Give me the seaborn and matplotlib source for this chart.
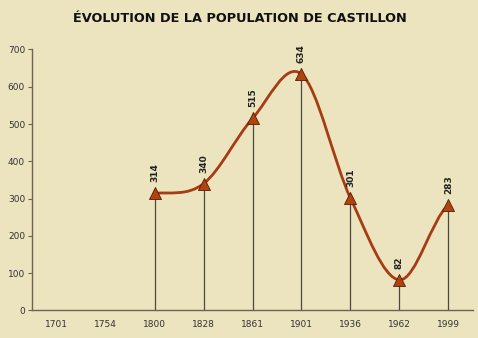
import numpy as np
import pandas as pd
import matplotlib
matplotlib.use("Agg")
import matplotlib.pyplot as plt
from matplotlib.path import Path
from matplotlib.patches import PathPatch
import seaborn as sns

# ---- data ----
years = ["1701", "1754", "1800", "1828", "1861", "1901", "1936", "1962", "1999"]
population = [np.nan, np.nan, 314, 340, 515, 634, 301, 82, 283]
title = "ÉVOLUTION DE LA POPULATION DE CASTILLON"
yticks = [0, 100, 200, 300, 400, 500, 600, 700]

df = pd.DataFrame({"year": years, "pop": population})
df["pos"] = np.arange(len(years))
d = df.dropna()

sns.set_theme(style="white")
plt.rcParams["font.family"] = ["DejaVu Sans"]

BG = "#ece3bf"
LINE = "#a63c12"
AX = "#6e6350"

fig = plt.figure(figsize=(4.78, 3.38), dpi=100, facecolor=BG)
ax = fig.add_axes([0.067, 0.0814, 0.9225, 0.7722])
ax.set_facecolor(BG)

# drop lines
ax.vlines(d["pos"], 0, d["pop"], color="#4d4a40", lw=0.9, zorder=2)

# smooth curve (Catmull-Rom rendered as cubic Bezier)
xs = d["pos"].to_numpy(float)
ys = d["pop"].to_numpy(float)
n = len(xs)
tang = np.zeros(n)
for i in range(n):
    if 0 < i < n - 1:
        tang[i] = (ys[i + 1] - ys[i - 1]) / (xs[i + 1] - xs[i - 1])
    elif i == 0:
        tang[i] = 0.5 * (ys[1] - ys[0]) / (xs[1] - xs[0])
    else:
        tang[i] = 0.5 * (ys[-1] - ys[-2]) / (xs[-1] - xs[-2])
verts = [(xs[0], ys[0])]
codes = [Path.MOVETO]
for i in range(n - 1):
    h = (xs[i + 1] - xs[i]) / 3.0
    verts += [(xs[i] + h, ys[i] + tang[i] * h),
              (xs[i + 1] - h, ys[i + 1] - tang[i + 1] * h),
              (xs[i + 1], ys[i + 1])]
    codes += [Path.CURVE4] * 3
ax.add_patch(PathPatch(Path(verts, codes), fill=False, edgecolor=LINE, lw=2.0, zorder=3))

# markers
sns.scatterplot(data=d, x="pos", y="pop", marker="^", s=75, color="#b0440f",
                edgecolor="#5a1a05", linewidth=0.6, zorder=4, ax=ax, legend=False)

# value labels
for x, y in zip(d["pos"], d["pop"]):
    ax.annotate(f"{int(y)}", (x, y), xytext=(0, 8), textcoords="offset points",
                rotation=90, ha="center", va="bottom", fontsize=6.5,
                fontweight="bold", color="#222222")

ax.set_xlim(-0.5, len(years) - 0.5)
ax.set_ylim(0, 700)
ax.set_xticks(df["pos"])
ax.set_xticklabels(years)
ax.set_yticks(yticks)
ax.set_xlabel("")
ax.set_ylabel("")
ax.tick_params(axis="x", length=0, pad=7, labelsize=6.5, colors="#333333")
ax.tick_params(axis="y", length=3, width=0.8, pad=2, labelsize=6.5,
               colors="#333333", left=True, color=AX, direction="out")
for s in ["top", "right"]:
    ax.spines[s].set_visible(False)
for s in ["left", "bottom"]:
    ax.spines[s].set_color(AX)
    ax.spines[s].set_linewidth(1.0)

fig.text(0.502, 0.945, title, ha="center", va="center", fontsize=9.3,
         fontweight="bold", color="#111111")

fig.savefig("out.png", dpi=100, facecolor=BG)
